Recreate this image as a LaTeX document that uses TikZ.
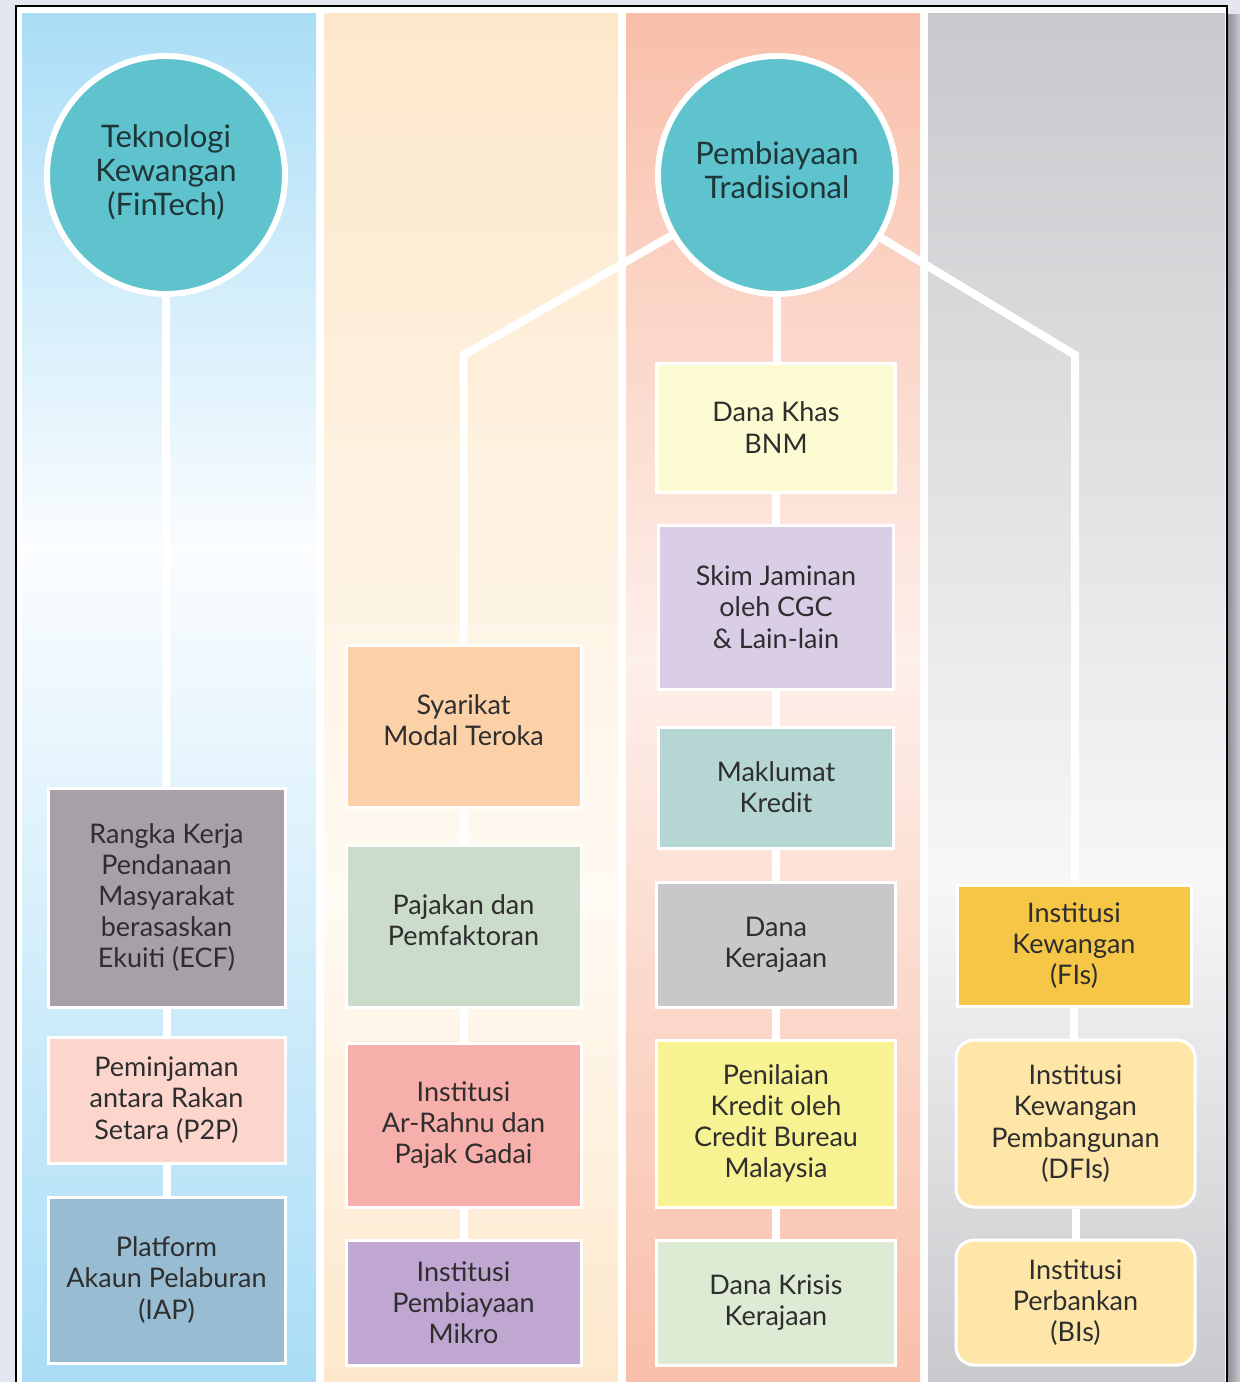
\documentclass[tikz,border=0pt]{standalone}
\usepackage{fontspec}
\setmainfont{Lato}
\pgfdeclarelayer{back}
\pgfdeclarelayer{mid}
\pgfsetlayers{back,mid,main}
\definecolor{marg}{HTML}{E4E7EF}
\definecolor{shadowA}{HTML}{8A8B90}
\definecolor{shadowB}{HTML}{C9CBD0}
\definecolor{cola}{HTML}{A9DDF6}
\definecolor{colamid}{HTML}{FBFDFF}
\definecolor{colb}{HTML}{FDE8CB}
\definecolor{colbmid}{HTML}{FFFAF3}
\definecolor{colc}{HTML}{F9BFAA}
\definecolor{colcmid}{HTML}{FDEFE9}
\definecolor{cold}{HTML}{C8C9CC}
\definecolor{coldmid}{HTML}{F7F7F8}
\definecolor{teal1}{HTML}{5EC3CD}
\definecolor{txt}{HTML}{2E2E2E}
\definecolor{txtc}{HTML}{1F3538}
\definecolor{crangka}{HTML}{A8A0A8}
\definecolor{cptp}{HTML}{FCD6CD}
\definecolor{ciap}{HTML}{98BCD1}
\definecolor{cvc}{HTML}{FDD1A8}
\definecolor{cpj}{HTML}{CCDCCB}
\definecolor{car}{HTML}{F6AFAA}
\definecolor{cmk}{HTML}{BFA7D2}
\definecolor{cdk}{HTML}{FDFBD2}
\definecolor{csj}{HTML}{D9CEE6}
\definecolor{cmkr}{HTML}{B6D6D4}
\definecolor{cdke}{HTML}{C8C8CA}
\definecolor{cpk}{HTML}{F7F292}
\definecolor{cdkk}{HTML}{DDEBD5}
\definecolor{cfi}{HTML}{F6C646}
\definecolor{cdfi}{HTML}{FDE6A8}
\begin{document}
\begin{tikzpicture}[x=0.5pt,y=-0.5pt,
  box/.style={draw=white, line width=1.5pt, align=center, text=txt,
    font=\fontsize{13.5}{15.6}\selectfont, inner sep=0pt},
  rbox/.style={box, rounded corners=9pt},
  conn/.style={draw=white, line width=4pt},
  hub/.style={circle, fill=teal1, draw=white, line width=3pt, minimum size=119pt,
    align=center, font=\fontsize{15.5}{17}\selectfont, text=txtc, inner sep=0pt}]
\useasboundingbox (0,0) rectangle (1240,1382);
% nodes
\node[hub] (F) at (166,175) {Teknologi\\Kewangan\\(FinTech)\\[-12pt]};
\node[hub] (T) at (777,175) {Pembiayaan\\Tradisional\\[-12pt]};
% column 1
\node[box, fill=crangka, minimum width=118.5pt, minimum height=109.5pt] (R) at (166.5,897.5)
  {Rangka Kerja\\Pendanaan\\Masyarakat\\berasaskan\\Ekuiti (ECF)};
\node[box, fill=cptp, minimum width=118.5pt, minimum height=63pt] (PTP) at (166.5,1100)
  {Peminjaman\\antara Rakan\\Setara (P2P)};
\node[box, fill=ciap, minimum width=118.5pt, minimum height=83pt] (IAP) at (166.5,1280)
  {Platform\\Akaun Pelaburan\\(IAP)};
% column 2
\node[box, fill=cvc, minimum width=117.5pt, minimum height=81pt] (VC) at (463.5,726)
  {Syarikat\\Modal Teroka\\[-9.6pt]};
\node[box, fill=cpj, minimum width=117.5pt, minimum height=81pt] (PJ) at (463.5,926)
  {Pajakan dan\\Pemfaktoran\\[-9.6pt]};
\node[box, fill=car, minimum width=117.5pt, minimum height=82pt] (AR) at (463.5,1125)
  {Institusi\\Ar-Rahnu dan\\Pajak Gadai};
\node[box, fill=cmk, minimum width=117.5pt, minimum height=62.5pt] (MK) at (463.5,1302.5)
  {Institusi\\Pembiayaan\\Mikro};
% column 3
\node[box, fill=cdk, minimum width=119.5pt, minimum height=64.5pt] (DK) at (776,427.5)
  {Dana Khas\\BNM};
\node[box, fill=csj, minimum width=117.5pt, minimum height=82pt] (SJ) at (776,607)
  {Skim Jaminan\\oleh CGC\\\& Lain-lain};
\node[box, fill=cmkr, minimum width=117.5pt, minimum height=60.5pt] (MKR) at (776,787.5)
  {Maklumat\\Kredit};
\node[box, fill=cdke, minimum width=119.5pt, minimum height=62.5pt] (DKE) at (776,944.5)
  {Dana\\Kerajaan};
\node[box, fill=cpk, minimum width=119.5pt, minimum height=83.5pt] (PK) at (776,1123.5)
  {Penilaian\\Kredit oleh\\Credit Bureau\\Malaysia};
\node[box, fill=cdkk, minimum width=119.5pt, minimum height=62.5pt] (DKK) at (776,1302.5)
  {Dana Krisis\\Kerajaan};
% column 4
\node[box, fill=cfi, minimum width=117pt, minimum height=60.5pt] (FI) at (1074,945.5)
  {Institusi\\Kewangan\\(FIs)};
\node[rbox, fill=cdfi, minimum width=119.5pt, minimum height=83.5pt] (DFI) at (1075.5,1123.5)
  {Institusi\\Kewangan\\Pembangunan\\(DFIs)};
\node[rbox, fill=cdfi, minimum width=119.5pt, minimum height=62.5pt] (BI) at (1075.5,1302.5)
  {Institusi\\Perbankan\\(BIs)};
\coordinate (k1) at (463.5,355);
\coordinate (k2) at (1075,355);
% background
\begin{pgfonlayer}{back}
\fill[marg] (0,0) rectangle (1240,1382);
\shade[left color=shadowA, right color=shadowB] (1227,14) rectangle (1240,1382);
\fill[white] (16,6) rectangle (1227,1382);
\draw[black, line width=0.6pt] (16,1382) -- (16,6) -- (1227,6) -- (1227,1382);
% col 1
\shade[top color=cola, bottom color=colamid] (22,13) rectangle (316,551);
\shade[top color=colamid, bottom color=cola] (22,550) rectangle (316,1382);
% col 2
\shade[top color=colb, bottom color=colbmid] (324,13) rectangle (618,901);
\shade[top color=colbmid, bottom color=colb] (324,900) rectangle (618,1382);
% col 3
\shade[top color=colc, bottom color=colcmid] (626,13) rectangle (920,661);
\shade[top color=colcmid, bottom color=colc] (626,660) rectangle (920,1382);
% col 4
\shade[top color=cold, bottom color=coldmid] (928,13) rectangle (1225,881);
\shade[top color=coldmid, bottom color=cold] (928,880) rectangle (1225,1382);
\end{pgfonlayer}
% connectors
\begin{pgfonlayer}{mid}
\draw[conn] (F.center) -- (R.north);
\draw[conn] (R) -- (PTP);
\draw[conn] (PTP) -- (IAP);
\draw[conn] (T.center) -- (k1) -- (VC.north);
\draw[conn] (VC) -- (PJ);
\draw[conn] (PJ) -- (AR);
\draw[conn] (AR) -- (MK);
\draw[conn] (T.center) -- (T.center |- DK.north);
\draw[conn] (DK) -- (SJ);
\draw[conn] (SJ) -- (MKR);
\draw[conn] (MKR) -- (DKE);
\draw[conn] (DKE) -- (PK);
\draw[conn] (PK) -- (DKK);
\draw[conn] (T.center) -- (k2) -- (k2 |- FI.north);
\draw[conn] (FI) -- (FI |- DFI.north);
\draw[conn] (DFI) -- (BI);
\end{pgfonlayer}
\end{tikzpicture}
\end{document}
